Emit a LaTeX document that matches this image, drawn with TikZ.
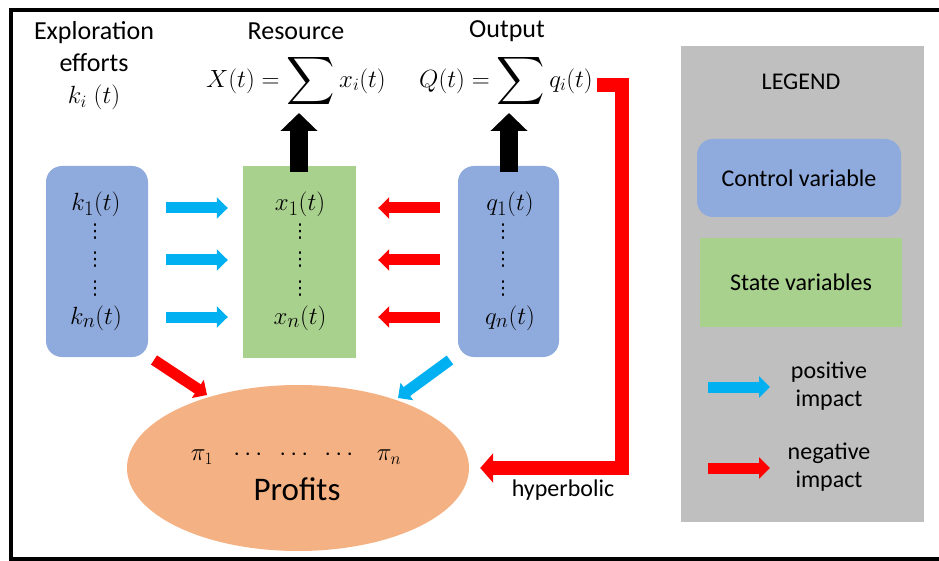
\documentclass[tikz,border=0pt]{standalone}
\usepackage[no-math]{fontspec}
\setmainfont{Carlito}
\newfontfamily\symfont{DejaVu Sans}
\usepackage{amsmath}
\usetikzlibrary{arrows.meta,shapes.geometric}

\definecolor{ctrlblue}{HTML}{8FAADC}
\definecolor{stategreen}{HTML}{A9D18E}
\definecolor{profitorange}{HTML}{F4B183}
\definecolor{legendgray}{HTML}{BFBFBF}
\definecolor{posblue}{HTML}{00B0F0}
\definecolor{negred}{HTML}{FF0000}

\newcommand{\bigsum}{\mathop{\vcenter{\hbox{\scalebox{1.35}{$\displaystyle\sum$}}}}}
\newcommand{\colvdots}{{\symfont\fontsize{19}{22}\selectfont ⋮}}

\tikzset{
  ctrlbox/.style={fill=ctrlblue,rounded corners=16pt,inner sep=0pt},
  statebox/.style={fill=stategreen,inner sep=0pt},
  boxmath/.style={font=\fontsize{28}{32}\selectfont},
  heading/.style={font=\fontsize{26}{32}\selectfont},
  posarrow/.style={draw=posblue,line width=11pt,-{Triangle[length=11pt,width=21pt]}},
  negarrow/.style={draw=negred,line width=11pt,-{Triangle[length=11pt,width=21pt]}},
  sumarrow/.style={draw=black,line width=18pt,-{Triangle[length=18pt,width=36pt]}},
}

\begin{document}
\begin{tikzpicture}[x=1pt,y=-1pt,inner sep=1pt,font=\fontsize{24}{30}\selectfont]
  \useasboundingbox (0,0) rectangle (939,561);
  \draw[line width=3.5pt] (950,10) -- (11,10) -- (11,559) -- (950,559);

  % headings
  \node[heading,align=center] (effort) at (94,66) {Exploration\\efforts\\$k_i\;(t)$};
  \node[heading,inner sep=0pt] (res) at (296,31) {Resource};
  \node[inner sep=0pt] (xsum) at (296,81) {$X(t)=\bigsum x_i(t)$};
  \node[heading,inner sep=0pt] (out) at (507,31) {Output};
  \node[inner sep=0pt] (qsum) at (506,81) {$Q(t)=\bigsum q_i(t)$};

  % variable boxes
  \node[ctrlbox,minimum width=102pt,minimum height=191pt] (kbox) at (97,261.5) {};
  \node[statebox,minimum width=113pt,minimum height=192pt] (xbox) at (299.5,262) {};
  \node[ctrlbox,minimum width=101pt,minimum height=191pt] (qbox) at (508.5,261.5) {};

  \node[boxmath] (k1) at (96,204) {$k_1(t)$};
  \node[boxmath] (kn) at (96,318) {$k_n(t)$};
  \node[boxmath] (x1) at (300,204) {$x_1(t)$};
  \node[boxmath] (xn) at (300,318) {$x_n(t)$};
  \node[boxmath] (q1) at (510,204) {$q_1(t)$};
  \node[boxmath] (qn) at (510,318) {$q_n(t)$};
  \foreach \col/\cx in {k/95,x/300,q/503}
    \foreach \row/\cy in {a/232,b/260,c/289}
      \node[inner sep=0pt] (\col\row) at (\cx,\cy) {\colvdots};

  % profits
  \node[ellipse,fill=profitorange,minimum width=342pt,minimum height=166pt] (profits) at (298,468) {};
  \node[font=\fontsize{26}{30}\selectfont] (pi1) at (202,457) {$\pi_1$};
  \node (pdots1) at (250,455) {$\cdots$};
  \node (pdots2) at (296,455) {$\cdots$};
  \node (pdots3) at (341,455) {$\cdots$};
  \node[font=\fontsize{26}{30}\selectfont] (pin) at (389,457) {$\pi_n$};
  \node[font=\fontsize{33}{38}\selectfont] (ptext) at (297,489) {Profits};

  % impacts between boxes
  \foreach \cy in {208,260,317} {
    \draw[posarrow] ([xshift=18pt]kbox.east |- 0,\cy) -- ([xshift=-15pt]xbox.west |- 0,\cy);
    \draw[negarrow] ([xshift=-18pt]qbox.west |- 0,\cy) -- ([xshift=22pt]xbox.east |- 0,\cy);
  }
  \draw[sumarrow] ([yshift=-6pt]xbox.north -| 299,0) -- (299,113);
  \draw[sumarrow] ([yshift=-6pt]qbox.north -| 509,0) -- (509,113);

  \draw[negarrow] (154,360) -- (207,395);
  \draw[posarrow] (450,360) -- (398,398);

  % hyperbolic feedback
  \coordinate (fbstart) at (597,85);
  \coordinate (fb) at (622,468);
  \draw[draw=negred,line width=14pt,line join=miter,-{Triangle[length=13pt,width=29pt]}]
    (fbstart) -| (fb) -- ([xshift=11pt]profits.east);
  \node (hyp) at (563,490) {hyperbolic};

  % legend
  \fill[legendgray] (681,46) rectangle (924,522);
  \node (legend) at (801,82) {LEGEND};
  \node[ctrlbox,minimum width=204pt,minimum height=78pt] (lctrl) at (799,178) {Control variable};
  \node[statebox,minimum width=202pt,minimum height=89pt] (lstate) at (801,282.5) {State variables};
  \node[align=center,font=\fontsize{24}{28}\selectfont] (lpos) at (829,386) {positive\\impact};
  \node[align=center,font=\fontsize{24}{28}\selectfont] (lneg) at (829,467) {negative\\impact};
  \coordinate (lposs) at (708,387);
  \coordinate (lnegs) at (708,468);
  \draw[posarrow] (lposs) -- ++(62,0);
  \draw[negarrow] (lnegs) -- ++(62,0);
\end{tikzpicture}
\end{document}
